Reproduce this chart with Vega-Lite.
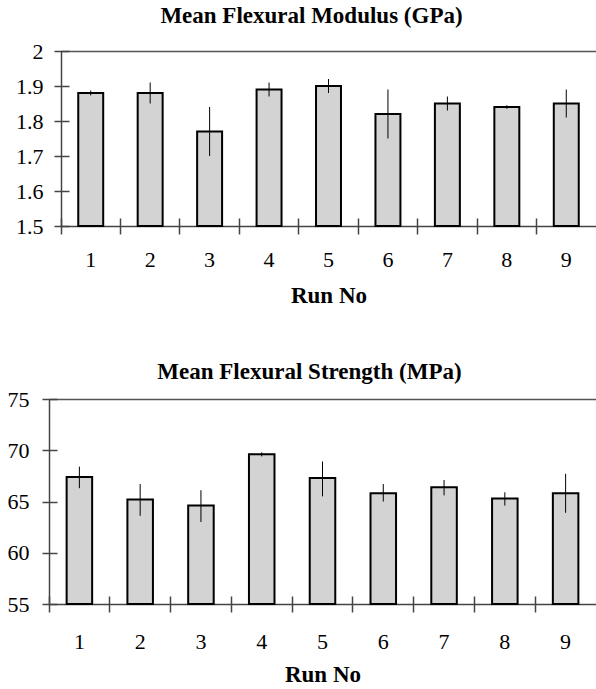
{
  "$schema": "https://vega.github.io/schema/vega-lite/v6.json",
  "background": "white",
  "padding": {"left": 7, "top": 5, "right": 0, "bottom": 5},
  "spacing": 54,
  "config": {"view": {"stroke": null}, "font": "Times New Roman, Liberation Serif, serif"},
  "vconcat": [
    {
      "width": 535,
      "height": 175,
      "title": {"text": "Mean Flexural Modulus (GPa)", "font": "Times New Roman, Liberation Serif, serif", "fontSize": 23, "fontWeight": "bold", "color": "black", "dx": -17, "offset": 12},
      "data": {"values": [
        {"run": 1, "mean": 1.88, "lo": 1.873, "hi": 1.887},
        {"run": 2, "mean": 1.88, "lo": 1.85, "hi": 1.91},
        {"run": 3, "mean": 1.77, "lo": 1.70, "hi": 1.84},
        {"run": 4, "mean": 1.89, "lo": 1.87, "hi": 1.91},
        {"run": 5, "mean": 1.90, "lo": 1.88, "hi": 1.92},
        {"run": 6, "mean": 1.82, "lo": 1.75, "hi": 1.89},
        {"run": 7, "mean": 1.85, "lo": 1.83, "hi": 1.87},
        {"run": 8, "mean": 1.84, "lo": 1.835, "hi": 1.845},
        {"run": 9, "mean": 1.85, "lo": 1.81, "hi": 1.89}
      ]},
      "layer": [
        {
          "mark": {"type": "bar", "fill": "#d3d3d3", "stroke": "black", "strokeWidth": 2, "width": {"band": 0.42}},
          "encoding": {
            "x": {"field": "run", "type": "ordinal", "scale": {"paddingInner": 0, "paddingOuter": 0},
              "axis": {"orient": "bottom", "title": "Run No", "titleFont": "Times New Roman, Liberation Serif, serif", "titleFontSize": 23, "titleFontWeight": "bold", "titleColor": "black", "titlePadding": 14,
                "labelFont": "Times New Roman, Liberation Serif, serif", "labelFontSize": 22, "labelColor": "black", "labelAngle": 0, "labelPadding": 23,
                "ticks": false, "tickSize": 0, "domainColor": "#444", "domainWidth": 1.5, "grid": false}},
            "y": {"field": "mean", "type": "quantitative", "scale": {"domain": [1.5, 2], "zero": false, "nice": false},
              "axis": {"orient": "left", "title": null, "values": [1.5, 1.6, 1.7, 1.8, 1.9, 2], "format": "~g",
                "labelFont": "Times New Roman, Liberation Serif, serif", "labelFontSize": 22, "labelColor": "black", "labelPadding": 18,
                "ticks": false, "tickSize": 0, "domainColor": "#444", "domainWidth": 1.5,
                "grid": true, "gridColor": "#555", "gridWidth": 1.5, "gridOpacity": {"condition": {"test": "datum.value === 2", "value": 1}, "value": 0}}},
            "y2": {"datum": 1.5}
          }
        },
        {
          "mark": {"type": "rule", "stroke": "black", "strokeWidth": 1},
          "encoding": {
            "x": {"field": "run", "type": "ordinal",
              "axis": {"orient": "bottom", "title": null, "labels": false, "domain": false, "grid": false, "ticks": true, "tickSize": 16, "offset": -8, "bandPosition": 0, "tickColor": "#444", "tickWidth": 1.5}},
            "y": {"field": "lo", "type": "quantitative",
              "axis": {"orient": "left", "title": null, "labels": false, "domain": false, "grid": false, "ticks": true, "tickSize": 15, "offset": -8, "values": [1.5, 1.6, 1.7, 1.8, 1.9, 2], "tickColor": "#444", "tickWidth": 1.5}},
            "y2": {"field": "hi"}
          }
        }
      ],
      "resolve": {"axis": {"x": "independent", "y": "independent"}}
    },
    {
      "width": 535,
      "height": 205,
      "title": {"text": "Mean Flexural Strength (MPa)", "font": "Times New Roman, Liberation Serif, serif", "fontSize": 23, "fontWeight": "bold", "color": "black", "dx": -19, "offset": 4},
      "data": {"values": [
        {"run": 1, "mean": 67.4, "lo": 66.3, "hi": 68.4},
        {"run": 2, "mean": 65.2, "lo": 63.6, "hi": 66.7},
        {"run": 3, "mean": 64.6, "lo": 63.0, "hi": 66.1},
        {"run": 4, "mean": 69.6, "lo": 69.4, "hi": 69.8},
        {"run": 5, "mean": 67.3, "lo": 65.5, "hi": 68.9},
        {"run": 6, "mean": 65.8, "lo": 65.0, "hi": 66.7},
        {"run": 7, "mean": 66.4, "lo": 65.6, "hi": 67.1},
        {"run": 8, "mean": 65.3, "lo": 64.6, "hi": 65.9},
        {"run": 9, "mean": 65.8, "lo": 63.9, "hi": 67.7}
      ]},
      "layer": [
        {
          "mark": {"type": "bar", "fill": "#d3d3d3", "stroke": "black", "strokeWidth": 2, "width": {"band": 0.42}},
          "encoding": {
            "x": {"field": "run", "type": "ordinal", "scale": {"paddingInner": 0, "paddingOuter": 0, "range": [-12, 535]},
              "axis": {"orient": "bottom", "title": "Run No", "titleFont": "Times New Roman, Liberation Serif, serif", "titleFontSize": 23, "titleFontWeight": "bold", "titleColor": "black", "titlePadding": 11,
                "labelFont": "Times New Roman, Liberation Serif, serif", "labelFontSize": 22, "labelColor": "black", "labelAngle": 0, "labelPadding": 27,
                "ticks": false, "tickSize": 0, "domainColor": "#444", "domainWidth": 1.5, "grid": false}},
            "y": {"field": "mean", "type": "quantitative", "scale": {"domain": [55, 75], "zero": false, "nice": false},
              "axis": {"orient": "left", "title": null, "values": [55, 60, 65, 70, 75], "offset": 12,
                "labelFont": "Times New Roman, Liberation Serif, serif", "labelFontSize": 22, "labelColor": "black", "labelPadding": 20,
                "ticks": false, "tickSize": 0, "domainColor": "#444", "domainWidth": 1.5,
                "grid": true, "gridColor": "#555", "gridWidth": 1.5, "gridOpacity": {"condition": {"test": "datum.value === 75", "value": 1}, "value": 0}}},
            "y2": {"datum": 55}
          }
        },
        {
          "mark": {"type": "rule", "stroke": "black", "strokeWidth": 1},
          "encoding": {
            "x": {"field": "run", "type": "ordinal",
              "axis": {"orient": "bottom", "title": null, "labels": false, "domain": false, "grid": false, "ticks": true, "tickSize": 16, "offset": -8, "bandPosition": 0, "tickColor": "#444", "tickWidth": 1.5}},
            "y": {"field": "lo", "type": "quantitative",
              "axis": {"orient": "left", "title": null, "labels": false, "domain": false, "grid": false, "ticks": true, "tickSize": 15, "offset": 4, "values": [55, 60, 65, 70, 75], "tickColor": "#444", "tickWidth": 1.5}},
            "y2": {"field": "hi"}
          }
        }
      ],
      "resolve": {"axis": {"x": "independent", "y": "independent"}}
    }
  ]
}
